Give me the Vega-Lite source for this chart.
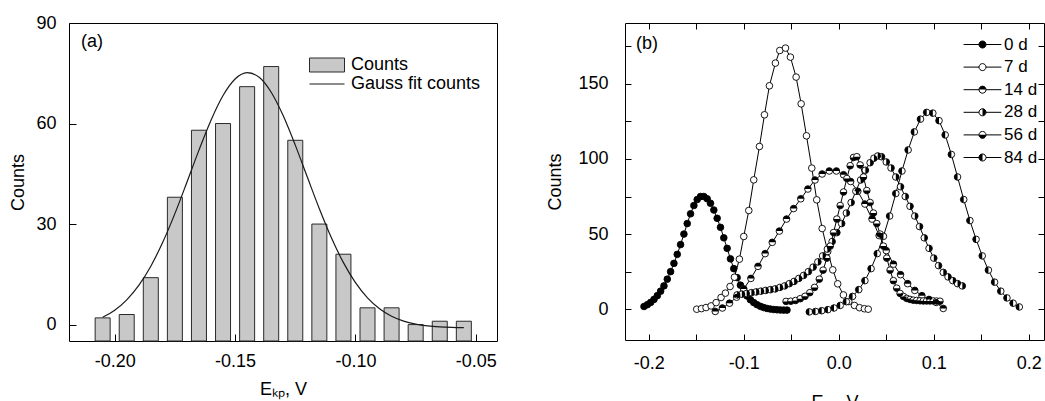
{
  "$schema": "https://vega.github.io/schema/vega-lite/v6.json",
  "background": "white",
  "padding": {"left": 9, "top": 13, "right": 0, "bottom": 0},
  "spacing": 48,
  "resolve": {
    "scale": {"fill": "independent", "stroke": "independent", "shape": "independent"},
    "legend": {"fill": "independent", "stroke": "independent", "shape": "independent"}
  },
  "config": {
    "view": {"stroke": "black", "strokeWidth": 1},
    "font": "Liberation Sans",
    "axis": {"grid": false, "domain": false, "tickColor": "black", "tickWidth": 1, "labelColor": "black", "titleColor": "black", "labelFontSize": 18, "titleFontSize": 18, "titleFontWeight": "normal", "labelFont": "Liberation Sans", "titleFont": "Liberation Sans"},
    "legend": {"labelFont": "Liberation Sans", "labelColor": "black", "padding": 0, "labelLimit": 0}
  },
  "datasets": {
    "bars": [
      {"E": -0.205, "counts": 2}, {"E": -0.195, "counts": 3}, {"E": -0.185, "counts": 14}, {"E": -0.175, "counts": 38},
      {"E": -0.165, "counts": 58}, {"E": -0.155, "counts": 60}, {"E": -0.145, "counts": 71}, {"E": -0.135, "counts": 77},
      {"E": -0.125, "counts": 55}, {"E": -0.115, "counts": 30}, {"E": -0.105, "counts": 21}, {"E": -0.095, "counts": 5},
      {"E": -0.085, "counts": 5}, {"E": -0.075, "counts": 0}, {"E": -0.065, "counts": 1}, {"E": -0.055, "counts": 1}
    ],
    "fit": [
      {"E": -0.205, "counts": 2.19}, {"E": -0.2, "counts": 4.28}, {"E": -0.195, "counts": 7.37}, {"E": -0.19, "counts": 11.69},
      {"E": -0.185, "counts": 17.43}, {"E": -0.18, "counts": 24.63}, {"E": -0.175, "counts": 33.11}, {"E": -0.17, "counts": 42.48},
      {"E": -0.165, "counts": 52.07}, {"E": -0.16, "counts": 61.0}, {"E": -0.155, "counts": 68.36}, {"E": -0.15, "counts": 73.3},
      {"E": -0.145, "counts": 75.19}, {"E": -0.14, "counts": 73.81}, {"E": -0.135, "counts": 69.33}, {"E": -0.13, "counts": 62.31},
      {"E": -0.125, "counts": 53.56}, {"E": -0.12, "counts": 44.02}, {"E": -0.115, "counts": 34.57}, {"E": -0.11, "counts": 25.91},
      {"E": -0.105, "counts": 18.49}, {"E": -0.1, "counts": 12.51}, {"E": -0.095, "counts": 7.97}, {"E": -0.09, "counts": 4.7},
      {"E": -0.085, "counts": 2.47}, {"E": -0.08, "counts": 1.02}, {"E": -0.075, "counts": 0.13}, {"E": -0.07, "counts": -0.4},
      {"E": -0.065, "counts": -0.69}, {"E": -0.06, "counts": -0.85}, {"E": -0.055, "counts": -0.93}
    ],
    "dist": [
      {"series": "0 d", "E": -0.205, "counts": 1.8}, {"series": "0 d", "E": -0.2015, "counts": 3}, {"series": "0 d", "E": -0.198, "counts": 4.5},
      {"series": "0 d", "E": -0.1945, "counts": 6.5}, {"series": "0 d", "E": -0.191, "counts": 9}, {"series": "0 d", "E": -0.1875, "counts": 12},
      {"series": "0 d", "E": -0.184, "counts": 15.5}, {"series": "0 d", "E": -0.1805, "counts": 20}, {"series": "0 d", "E": -0.177, "counts": 25},
      {"series": "0 d", "E": -0.1735, "counts": 30.5}, {"series": "0 d", "E": -0.17, "counts": 36.5}, {"series": "0 d", "E": -0.1665, "counts": 43},
      {"series": "0 d", "E": -0.163, "counts": 50}, {"series": "0 d", "E": -0.1595, "counts": 57}, {"series": "0 d", "E": -0.156, "counts": 63.5},
      {"series": "0 d", "E": -0.1525, "counts": 69}, {"series": "0 d", "E": -0.149, "counts": 73}, {"series": "0 d", "E": -0.1455, "counts": 75},
      {"series": "0 d", "E": -0.142, "counts": 75}, {"series": "0 d", "E": -0.1385, "counts": 73.5}, {"series": "0 d", "E": -0.135, "counts": 70.5},
      {"series": "0 d", "E": -0.1315, "counts": 66}, {"series": "0 d", "E": -0.128, "counts": 60.5}, {"series": "0 d", "E": -0.1245, "counts": 54.5},
      {"series": "0 d", "E": -0.121, "counts": 47.5}, {"series": "0 d", "E": -0.1175, "counts": 40.5}, {"series": "0 d", "E": -0.114, "counts": 33.5},
      {"series": "0 d", "E": -0.1105, "counts": 27}, {"series": "0 d", "E": -0.107, "counts": 21}, {"series": "0 d", "E": -0.1035, "counts": 16},
      {"series": "0 d", "E": -0.1, "counts": 12}, {"series": "0 d", "E": -0.0965, "counts": 8.8}, {"series": "0 d", "E": -0.093, "counts": 6.3},
      {"series": "0 d", "E": -0.0895, "counts": 4.4}, {"series": "0 d", "E": -0.086, "counts": 3}, {"series": "0 d", "E": -0.0825, "counts": 1.9},
      {"series": "0 d", "E": -0.079, "counts": 1.1}, {"series": "0 d", "E": -0.0755, "counts": 0.5}, {"series": "0 d", "E": -0.072, "counts": 0.1},
      {"series": "0 d", "E": -0.0685, "counts": -0.2}, {"series": "0 d", "E": -0.065, "counts": -0.4}, {"series": "0 d", "E": -0.0615, "counts": -0.5},
      {"series": "0 d", "E": -0.058, "counts": -0.6}, {"series": "0 d", "E": -0.0545, "counts": -0.6},

      {"series": "7 d", "E": -0.1495, "counts": 0}, {"series": "7 d", "E": -0.1445, "counts": 0.4}, {"series": "7 d", "E": -0.1397, "counts": 1.1},
      {"series": "7 d", "E": -0.1344, "counts": 2.2}, {"series": "7 d", "E": -0.1291, "counts": 4.4}, {"series": "7 d", "E": -0.1239, "counts": 7.8},
      {"series": "7 d", "E": -0.1193, "counts": 10.7}, {"series": "7 d", "E": -0.1144, "counts": 15.1}, {"series": "7 d", "E": -0.1098, "counts": 21.3},
      {"series": "7 d", "E": -0.1046, "counts": 33.3}, {"series": "7 d", "E": -0.1, "counts": 48.4}, {"series": "7 d", "E": -0.0947, "counts": 65.7},
      {"series": "7 d", "E": -0.0895, "counts": 86.1}, {"series": "7 d", "E": -0.0835, "counts": 108.3}, {"series": "7 d", "E": -0.0782, "counts": 129.4},
      {"series": "7 d", "E": -0.073, "counts": 148.7}, {"series": "7 d", "E": -0.0667, "counts": 163.8}, {"series": "7 d", "E": -0.0621, "counts": 172.2},
      {"series": "7 d", "E": -0.0561, "counts": 173.8}, {"series": "7 d", "E": -0.0509, "counts": 167.8}, {"series": "7 d", "E": -0.0449, "counts": 154.5},
      {"series": "7 d", "E": -0.0396, "counts": 136.7}, {"series": "7 d", "E": -0.034, "counts": 115.4}, {"series": "7 d", "E": -0.0284, "counts": 93.9},
      {"series": "7 d", "E": -0.0232, "counts": 72.8}, {"series": "7 d", "E": -0.0175, "counts": 53.7}, {"series": "7 d", "E": -0.0116, "counts": 38.4},
      {"series": "7 d", "E": -0.0063, "counts": 26.2}, {"series": "7 d", "E": -0.0011, "counts": 16.9}, {"series": "7 d", "E": 0.0049, "counts": 9.5},
      {"series": "7 d", "E": 0.0105, "counts": 5.1}, {"series": "7 d", "E": 0.0165, "counts": 2.5}, {"series": "7 d", "E": 0.0218, "counts": 1.0},
      {"series": "7 d", "E": 0.027, "counts": 0.3}, {"series": "7 d", "E": 0.031, "counts": 0},

      {"series": "14 d", "E": -0.13, "counts": -1.5}, {"series": "14 d", "E": -0.1225, "counts": 0.8}, {"series": "14 d", "E": -0.115, "counts": 4},
      {"series": "14 d", "E": -0.1075, "counts": 8}, {"series": "14 d", "E": -0.1, "counts": 13.5}, {"series": "14 d", "E": -0.0925, "counts": 20.5},
      {"series": "14 d", "E": -0.085, "counts": 28.5}, {"series": "14 d", "E": -0.0775, "counts": 37}, {"series": "14 d", "E": -0.07, "counts": 44.5},
      {"series": "14 d", "E": -0.0625, "counts": 52}, {"series": "14 d", "E": -0.055, "counts": 60}, {"series": "14 d", "E": -0.0475, "counts": 67},
      {"series": "14 d", "E": -0.04, "counts": 73.5}, {"series": "14 d", "E": -0.0325, "counts": 80}, {"series": "14 d", "E": -0.025, "counts": 86},
      {"series": "14 d", "E": -0.0175, "counts": 90}, {"series": "14 d", "E": -0.01, "counts": 92}, {"series": "14 d", "E": -0.0025, "counts": 92},
      {"series": "14 d", "E": 0.005, "counts": 89.5}, {"series": "14 d", "E": 0.0125, "counts": 85}, {"series": "14 d", "E": 0.02, "counts": 78.5},
      {"series": "14 d", "E": 0.0275, "counts": 70}, {"series": "14 d", "E": 0.035, "counts": 60}, {"series": "14 d", "E": 0.0425, "counts": 49},
      {"series": "14 d", "E": 0.05, "counts": 39}, {"series": "14 d", "E": 0.0575, "counts": 30}, {"series": "14 d", "E": 0.065, "counts": 23},
      {"series": "14 d", "E": 0.0725, "counts": 17}, {"series": "14 d", "E": 0.08, "counts": 12.5}, {"series": "14 d", "E": 0.0875, "counts": 9},
      {"series": "14 d", "E": 0.095, "counts": 6.5}, {"series": "14 d", "E": 0.1025, "counts": 4.5}, {"series": "14 d", "E": 0.11, "counts": 0.5},

      {"series": "28 d", "E": -0.107, "counts": 9.5}, {"series": "28 d", "E": -0.102, "counts": 10}, {"series": "28 d", "E": -0.097, "counts": 10.5},
      {"series": "28 d", "E": -0.092, "counts": 11}, {"series": "28 d", "E": -0.087, "counts": 11.5}, {"series": "28 d", "E": -0.082, "counts": 12},
      {"series": "28 d", "E": -0.077, "counts": 12.5}, {"series": "28 d", "E": -0.072, "counts": 13}, {"series": "28 d", "E": -0.067, "counts": 13.5},
      {"series": "28 d", "E": -0.062, "counts": 14.5}, {"series": "28 d", "E": -0.057, "counts": 15.5}, {"series": "28 d", "E": -0.052, "counts": 17},
      {"series": "28 d", "E": -0.047, "counts": 18.5}, {"series": "28 d", "E": -0.042, "counts": 20.5}, {"series": "28 d", "E": -0.037, "counts": 22.5},
      {"series": "28 d", "E": -0.032, "counts": 25}, {"series": "28 d", "E": -0.027, "counts": 28}, {"series": "28 d", "E": -0.022, "counts": 31.5},
      {"series": "28 d", "E": -0.017, "counts": 35.5}, {"series": "28 d", "E": -0.012, "counts": 40}, {"series": "28 d", "E": -0.007, "counts": 45},
      {"series": "28 d", "E": -0.002, "counts": 51}, {"series": "28 d", "E": 0.003, "counts": 57}, {"series": "28 d", "E": 0.008, "counts": 64},
      {"series": "28 d", "E": 0.013, "counts": 71}, {"series": "28 d", "E": 0.018, "counts": 78.5}, {"series": "28 d", "E": 0.023, "counts": 86},
      {"series": "28 d", "E": 0.028, "counts": 92.5}, {"series": "28 d", "E": 0.033, "counts": 97.5}, {"series": "28 d", "E": 0.037, "counts": 100.5},
      {"series": "28 d", "E": 0.041, "counts": 102}, {"series": "28 d", "E": 0.045, "counts": 101.5}, {"series": "28 d", "E": 0.05, "counts": 98},
      {"series": "28 d", "E": 0.055, "counts": 94}, {"series": "28 d", "E": 0.06, "counts": 88}, {"series": "28 d", "E": 0.065, "counts": 81.5},
      {"series": "28 d", "E": 0.07, "counts": 75}, {"series": "28 d", "E": 0.075, "counts": 68.5}, {"series": "28 d", "E": 0.08, "counts": 62},
      {"series": "28 d", "E": 0.085, "counts": 55}, {"series": "28 d", "E": 0.09, "counts": 47.5}, {"series": "28 d", "E": 0.095, "counts": 40.5},
      {"series": "28 d", "E": 0.1, "counts": 34}, {"series": "28 d", "E": 0.105, "counts": 29}, {"series": "28 d", "E": 0.11, "counts": 24.5},
      {"series": "28 d", "E": 0.115, "counts": 21.5}, {"series": "28 d", "E": 0.12, "counts": 19}, {"series": "28 d", "E": 0.125, "counts": 17},
      {"series": "28 d", "E": 0.13, "counts": 15.5},

      {"series": "56 d", "E": -0.0555, "counts": 5.2}, {"series": "56 d", "E": -0.0505, "counts": 5.3}, {"series": "56 d", "E": -0.0455, "counts": 5.8},
      {"series": "56 d", "E": -0.0405, "counts": 7}, {"series": "56 d", "E": -0.0355, "counts": 8.6}, {"series": "56 d", "E": -0.0305, "counts": 11},
      {"series": "56 d", "E": -0.0255, "counts": 14.5}, {"series": "56 d", "E": -0.0205, "counts": 20}, {"series": "56 d", "E": -0.0165, "counts": 26},
      {"series": "56 d", "E": -0.0125, "counts": 34}, {"series": "56 d", "E": -0.009, "counts": 42}, {"series": "56 d", "E": -0.0055, "counts": 51},
      {"series": "56 d", "E": -0.002, "counts": 60}, {"series": "56 d", "E": 0.0015, "counts": 69}, {"series": "56 d", "E": 0.005, "counts": 78},
      {"series": "56 d", "E": 0.0085, "counts": 87}, {"series": "56 d", "E": 0.012, "counts": 95.5}, {"series": "56 d", "E": 0.0155, "counts": 101},
      {"series": "56 d", "E": 0.019, "counts": 101.5}, {"series": "56 d", "E": 0.0225, "counts": 96}, {"series": "56 d", "E": 0.026, "counts": 88},
      {"series": "56 d", "E": 0.0295, "counts": 79}, {"series": "56 d", "E": 0.033, "counts": 71}, {"series": "56 d", "E": 0.0365, "counts": 64},
      {"series": "56 d", "E": 0.04, "counts": 57}, {"series": "56 d", "E": 0.0435, "counts": 50}, {"series": "56 d", "E": 0.047, "counts": 42},
      {"series": "56 d", "E": 0.0505, "counts": 34}, {"series": "56 d", "E": 0.054, "counts": 26}, {"series": "56 d", "E": 0.0575, "counts": 19},
      {"series": "56 d", "E": 0.061, "counts": 14}, {"series": "56 d", "E": 0.0645, "counts": 10.5}, {"series": "56 d", "E": 0.068, "counts": 8.5},
      {"series": "56 d", "E": 0.0715, "counts": 7.2}, {"series": "56 d", "E": 0.075, "counts": 6.5}, {"series": "56 d", "E": 0.0785, "counts": 6},
      {"series": "56 d", "E": 0.082, "counts": 5.8}, {"series": "56 d", "E": 0.0855, "counts": 5.6}, {"series": "56 d", "E": 0.089, "counts": 5.5},
      {"series": "56 d", "E": 0.0925, "counts": 5.5}, {"series": "56 d", "E": 0.096, "counts": 5.5}, {"series": "56 d", "E": 0.0995, "counts": 5.5},
      {"series": "56 d", "E": 0.103, "counts": 5.4}, {"series": "56 d", "E": 0.1065, "counts": 5.3},

      {"series": "84 d", "E": -0.031, "counts": -1.8}, {"series": "84 d", "E": -0.0245, "counts": -1.5}, {"series": "84 d", "E": -0.018, "counts": -1},
      {"series": "84 d", "E": -0.0115, "counts": -0.3}, {"series": "84 d", "E": -0.005, "counts": 0.8}, {"series": "84 d", "E": 0.0015, "counts": 2.5},
      {"series": "84 d", "E": 0.008, "counts": 5}, {"series": "84 d", "E": 0.0145, "counts": 8.5}, {"series": "84 d", "E": 0.021, "counts": 13},
      {"series": "84 d", "E": 0.0275, "counts": 19}, {"series": "84 d", "E": 0.034, "counts": 27}, {"series": "84 d", "E": 0.0405, "counts": 37},
      {"series": "84 d", "E": 0.047, "counts": 48.5}, {"series": "84 d", "E": 0.0535, "counts": 62}, {"series": "84 d", "E": 0.06, "counts": 77},
      {"series": "84 d", "E": 0.0665, "counts": 92}, {"series": "84 d", "E": 0.073, "counts": 106}, {"series": "84 d", "E": 0.0795, "counts": 118},
      {"series": "84 d", "E": 0.086, "counts": 126.5}, {"series": "84 d", "E": 0.0925, "counts": 131}, {"series": "84 d", "E": 0.099, "counts": 130.5},
      {"series": "84 d", "E": 0.1055, "counts": 125.5}, {"series": "84 d", "E": 0.112, "counts": 116}, {"series": "84 d", "E": 0.1185, "counts": 103},
      {"series": "84 d", "E": 0.125, "counts": 88}, {"series": "84 d", "E": 0.1315, "counts": 73}, {"series": "84 d", "E": 0.138, "counts": 59},
      {"series": "84 d", "E": 0.1445, "counts": 46.5}, {"series": "84 d", "E": 0.151, "counts": 35.5}, {"series": "84 d", "E": 0.1575, "counts": 26},
      {"series": "84 d", "E": 0.164, "counts": 18}, {"series": "84 d", "E": 0.1705, "counts": 12}, {"series": "84 d", "E": 0.177, "counts": 7.5},
      {"series": "84 d", "E": 0.1835, "counts": 4}, {"series": "84 d", "E": 0.19, "counts": 1.5}
    ]
  },
  "hconcat": [
    {
      "width": 428,
      "height": 318,
      "title": {"text": "(a)", "orient": "top", "anchor": "start", "frame": "group", "offset": -27, "dx": 12, "dy": 24, "baseline": "alphabetic", "fontSize": 18, "fontWeight": "normal", "font": "Liberation Sans", "color": "black"},
      "layer": [
        {
          "data": {"name": "bars"},
          "mark": {"type": "bar", "width": 15, "stroke": "#2a2a2a", "strokeWidth": 1},
          "encoding": {
            "x": {"field": "E", "type": "quantitative", "title": "Eₖₚ, V",
                  "scale": {"domain": [-0.2169, -0.0433], "nice": false, "zero": false},
                  "axis": {"values": [-0.2, -0.15, -0.1, -0.05], "labelExpr": "replace(format(datum.value, '.2f'), '−', '-')", "tickSize": -7, "labelPadding": 18, "titlePadding": 10}},
            "y": {"field": "counts", "type": "quantitative", "title": "Counts",
                  "scale": {"domain": [-4.9, 90], "nice": false, "zero": false},
                  "axis": {"values": [0, 30, 60, 90], "tickSize": -7, "labelPadding": 20, "titlePadding": 8}},
            "y2": {"datum": -4.9},
            "fill": {"datum": "Counts", "scale": {"range": ["#c8c8c8"]},
                     "legend": {"orient": "none", "legendX": 249, "legendY": 33, "title": null, "symbolType": "M-2.5,-1L2.5,-1L2.5,1L-2.5,1Z", "symbolSize": 196, "symbolStrokeColor": "#2a2a2a", "symbolStrokeWidth": 1, "labelFontSize": 18, "labelOffset": 15}}
          }
        },
        {
          "data": {"name": "fit"},
          "mark": {"type": "line", "strokeWidth": 1.2, "interpolate": "monotone"},
          "encoding": {
            "x": {"field": "E", "type": "quantitative", "title": "Eₖₚ, V"},
            "y": {"field": "counts", "type": "quantitative", "title": "Counts"},
            "stroke": {"datum": "Gauss fit counts", "scale": {"range": ["#1a1a1a"]},
                       "legend": {"orient": "none", "legendX": 249, "legendY": 52, "title": null, "symbolType": "M-2.5,0L2.5,0", "symbolSize": 196, "symbolStrokeWidth": 1.2, "labelFontSize": 18, "labelOffset": 15}}
          }
        }
      ]
    },
    {
      "width": 419,
      "height": 317,
      "title": {"text": "(b)", "orient": "top", "anchor": "start", "frame": "group", "offset": -27, "dx": 11, "dy": 17, "baseline": "alphabetic", "fontSize": 18, "fontWeight": "normal", "font": "Liberation Sans", "color": "black"},
      "data": {"name": "dist"},
      "resolve": {"axis": {"x": "independent", "y": "independent"}},
      "layer": [
        {
          "mark": {"type": "line", "color": "black", "strokeWidth": 1},
          "encoding": {
            "x": {"field": "E", "type": "quantitative", "title": "Eₖₚ, V",
                  "scale": {"domain": [-0.225, 0.216], "nice": false, "zero": false},
                  "axis": {"orient": "bottom", "values": [-0.2, -0.15, -0.1, -0.05, 0, 0.05, 0.1, 0.15, 0.2], "labelExpr": "abs(datum.value*10 - round(datum.value*10)) < 0.001 ? replace(format(datum.value, '.1f'), '−', '-') : ''", "tickSize": -6, "labelPadding": 20, "titlePadding": 21}},
            "y": {"field": "counts", "type": "quantitative", "title": "Counts",
                  "scale": {"domain": [-20.5, 190.5], "nice": false, "zero": false},
                  "axis": {"orient": "left", "values": [0, 25, 50, 75, 100, 125, 150, 175], "labelExpr": "datum.value % 50 === 0 ? datum.label : ''", "tickSize": -6, "labelPadding": 23, "titlePadding": 13}},
            "detail": {"field": "series"}
          }
        },
        {
          "mark": {"type": "point", "shape": "circle", "filled": true, "size": 44, "stroke": "black", "strokeWidth": 0.9, "opacity": 1},
          "encoding": {
            "x": {"field": "E", "type": "quantitative",
                  "axis": {"orient": "top", "labels": false, "title": null, "values": [-0.2, -0.15, -0.1, -0.05, 0, 0.05, 0.1, 0.15, 0.2], "tickSize": -6}},
            "y": {"field": "counts", "type": "quantitative",
                  "axis": {"orient": "right", "labels": false, "title": null, "values": [0, 25, 50, 75, 100, 125, 150, 175], "tickSize": -6}},
            "fill": {"field": "series", "type": "nominal",
                     "scale": {"domain": ["0 d", "7 d", "14 d", "28 d", "56 d", "84 d"], "range": ["black", "white", "white", "white", "white", "white"]},
                     "legend": {"orient": "none", "legendX": 349, "legendY": 13, "title": null, "symbolType": "M-5.4,0L-1,0M1,0L5.4,0M-1,0A1,1,0,1,1,1,0A1,1,0,1,1,-1,0Z", "symbolSize": 49, "symbolStrokeColor": "black", "symbolStrokeWidth": 1, "labelFontSize": 17, "labelOffset": 13, "rowPadding": 4.6}}
          }
        },
        {
          "transform": [{"filter": {"field": "series", "oneOf": ["14 d", "28 d", "56 d", "84 d"]}}],
          "mark": {"type": "point", "filled": true, "size": 44, "color": "black", "strokeWidth": 0, "opacity": 1},
          "encoding": {
            "x": {"field": "E", "type": "quantitative", "axis": null},
            "y": {"field": "counts", "type": "quantitative", "axis": null},
            "shape": {"field": "series", "type": "nominal",
                      "scale": {"domain": ["14 d", "28 d", "56 d", "84 d"], "range": ["M-1,0A1,1,0,0,1,1,0Z", "M0,-1A1,1,0,0,1,0,1Z", "M-1,0A1,1,0,0,0,1,0Z", "M0,-1A1,1,0,0,0,0,1Z"]},
                      "legend": {"orient": "none", "legendX": 349, "legendY": 58, "title": null, "symbolSize": 49, "symbolFillColor": "black", "symbolStrokeColor": "transparent", "symbolStrokeWidth": 1, "labelFontSize": 17, "labelOffset": 13, "rowPadding": 4.6, "labelColor": "transparent"}}
          }
        }
      ]
    }
  ]
}
